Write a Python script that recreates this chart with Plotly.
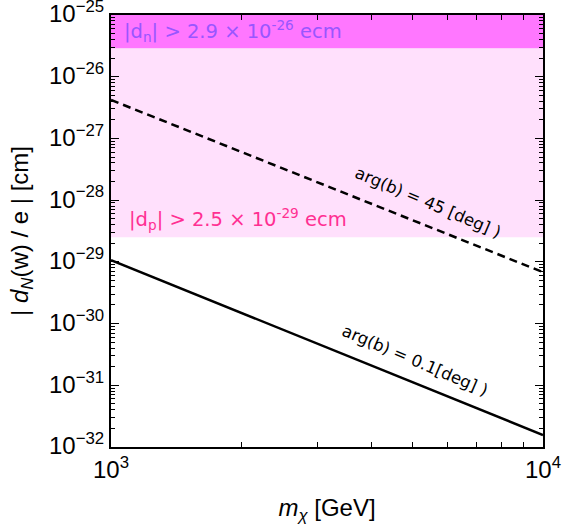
import numpy as np
import plotly.graph_objects as go

# Data
mass_gev = [1000, 2000, 5000, 10000]
edm_45deg = [4.2e-27, 6.1e-28, 4.7e-29, 6.8e-30]
edm_01deg = [1.07e-29, 1.5e-30, 1.12e-31, 1.56e-32]

dn_limit = 2.9e-26
dp_limit = 2.5e-29
y_top = 1e-25
x_range = [1000, 10000]

x_tickvals = [1e3, 1e4]
x_ticktext = ["10<sup>3</sup>", "10<sup>4</sup>"]
y_exponents = [-32, -31, -30, -29, -28, -27, -26, -25]

band_dn_color = "#ff77ff"
band_dp_color = "#ffe0fc"
dn_text_color = "#9955ff"
dp_text_color = "#ff2f92"

fig = go.Figure()

# proton limit band
fig.add_trace(go.Scatter(
    x=[x_range[0], x_range[1], x_range[1], x_range[0], x_range[0]],
    y=[dp_limit, dp_limit, dn_limit, dn_limit, dp_limit],
    fill="toself", fillcolor=band_dp_color, mode="none",
    showlegend=False, hoverinfo="skip"))
# neutron limit band
fig.add_trace(go.Scatter(
    x=[x_range[0], x_range[1], x_range[1], x_range[0], x_range[0]],
    y=[dn_limit, dn_limit, y_top, y_top, dn_limit],
    fill="toself", fillcolor=band_dn_color, mode="none",
    showlegend=False, hoverinfo="skip"))

fig.add_trace(go.Scatter(x=mass_gev, y=edm_45deg, mode="lines",
                         line=dict(color="black", width=2.5, dash="8px,5px"),
                         showlegend=False))
fig.add_trace(go.Scatter(x=mass_gev, y=edm_01deg, mode="lines",
                         line=dict(color="black", width=2.5),
                         showlegend=False))

ann_font = "DejaVu Sans"
fig.add_annotation(xref="paper", yref="paper", x=0.026, y=0.962,
                   text="|d<sub>n</sub>| > 2.9 × 10<sup>-26</sup> ecm",
                   showarrow=False, xanchor="left", yanchor="middle",
                   font=dict(family=ann_font, size=19.5, color=dn_text_color))
fig.add_annotation(xref="paper", yref="paper", x=0.037, y=0.527,
                   text="|d<sub>p</sub>| > 2.5 × 10<sup>-29</sup> ecm",
                   showarrow=False, xanchor="left", yanchor="middle",
                   font=dict(family=ann_font, size=19.5, color=dp_text_color))
fig.add_annotation(xref="paper", yref="paper", x=(428-111)/432, y=(447-202)/432,
                   text="arg(b) = 45 [deg] )", textangle=23,
                   showarrow=False, xanchor="center", yanchor="middle",
                   font=dict(family=ann_font, size=16.5, color="black"))
fig.add_annotation(xref="paper", yref="paper", x=(415-111)/432, y=(447-360)/432,
                   text="arg(b) = 0.1[deg] )", textangle=23,
                   showarrow=False, xanchor="center", yanchor="middle",
                   font=dict(family=ann_font, size=16.5, color="black"))

axis_common = dict(showline=True, linecolor="black", linewidth=2, mirror="ticks",
                   ticks="inside", tickcolor="black", showgrid=False, zeroline=False,
                   automargin=False, ticklabeloverflow="allow")

x_minor = [m * 1e3 for m in range(2, 10)]
y_minor = [m * 10.0 ** e for e in y_exponents[:-1] for m in range(2, 10)]

fig.update_xaxes(type="log", range=[3, 4], ticklen=8, tickwidth=1.2,
                 tickmode="array", tickvals=x_tickvals, ticktext=x_ticktext,
                 minor=dict(ticks="inside", ticklen=5, tickcolor="black", tickwidth=1.2,
                            tickmode="array", tickvals=x_minor, showgrid=False),
                 title=dict(text="<i>m</i><sub><i>χ</i></sub> [GeV]", font=dict(size=24), standoff=17),
                 tickfont=dict(size=24), **axis_common)
fig.update_yaxes(type="log", range=[-32, -25], ticklen=8, tickwidth=1.2,
                 tickmode="array", tickvals=[10.0 ** e for e in y_exponents],
                 ticktext=["10<sup>−%d</sup>" % (-e) for e in y_exponents],
                 ticklabelshift=-1,
                 minor=dict(ticks="inside", ticklen=4, tickcolor="black", tickwidth=1.2,
                            tickmode="array", tickvals=y_minor, showgrid=False),
                 title=dict(text="| <i>d</i><sub><i>N</i></sub>(w) / e | [cm]", font=dict(size=24), standoff=14),
                 tickfont=dict(size=24), **axis_common)

fig.update_layout(width=562, height=527,
                  margin=dict(l=111, r=19, t=15, b=80, autoexpand=False),
                  plot_bgcolor="white", paper_bgcolor="white",
                  font=dict(family="Liberation Sans, Arial, sans-serif", color="black"))

fig.write_html("out.html", config={"displayModeBar": False},
               post_script="document.body.style.margin='0';document.body.style.overflow='hidden';")
